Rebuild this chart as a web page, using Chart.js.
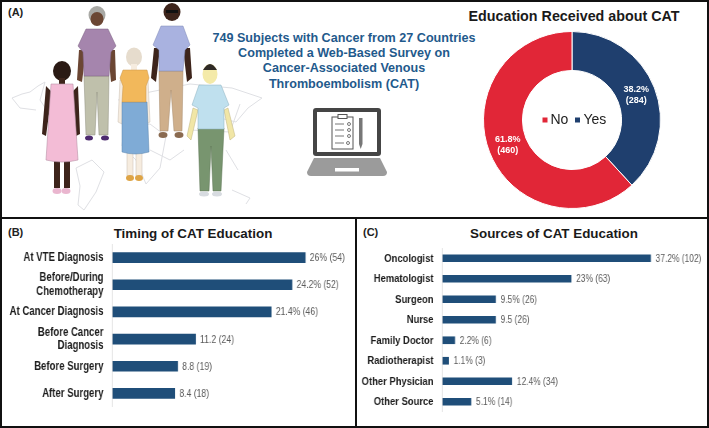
<!DOCTYPE html>
<html>
<head>
<meta charset="utf-8">
<style>
  html, body { margin: 0; padding: 0; background: #fff; }
  body { width: 709px; height: 428px; position: relative; overflow: hidden; font-family: "Liberation Sans", Arial, sans-serif; }
  .panel { position: absolute; box-sizing: border-box; border: 2px solid #111; }
  .tag { position: absolute; font-weight: bold; font-size: 11px; color: #222; }
  .title { position: absolute; font-weight: bold; color: #1a1a1a; font-size: 13.4px; white-space: nowrap; transform: translateX(-50%); }
  .lead { position: absolute; left: 344px; top: 31px; transform: translateX(-50%); width: 290px; text-align: center;
          color: #1f5a8c; font-weight: bold; font-size: 12.6px; line-height: 15.2px; }
  canvas { position: absolute; }
  canvas.squeezed { transform: scaleX(0.8); transform-origin: left top; }
  svg { position: absolute; left: 0; top: 0; }
</style>
</head>
<body>
<div class="panel" style="left:0;top:0;width:709px;height:219px"></div>
<div class="panel" style="left:0;top:217px;width:357px;height:211px"></div>
<div class="panel" style="left:355px;top:217px;width:354px;height:211px"></div>

<svg width="460" height="215" viewBox="0 0 460 215">
  <g fill="none" stroke="#dfe0e4" stroke-width="1">
    <path d="M12 98 L22 94 L30 92 L38 86 L45 82 L40 100 L50 115 L44 128 M12 98 L20 108 L36 110"/>
    <path d="M76 168 L92 160 L104 172 L96 192 L84 210 L78 205 L80 186 Z"/>
    <path d="M118 100 L150 92 L190 84 L232 88 L262 98 L248 108 L236 122 L220 118"/>
    <path d="M124 128 L150 124 L166 136 L160 168 L146 184 L136 160 L122 146 Z"/>
    <path d="M232 190 L250 198 L246 204 M190 130 L230 132 L240 104 M150 150 L170 160 L184 150 M226 150 L238 170"/>
  </g>
  <!-- woman, pink dress -->
  <g>
    <path d="M46 86 L42 134 L46 136 L52 92 Z M78 86 L80 134 L76 136 L72 92 Z" fill="#3d241b"/>
    <rect x="54" y="160" width="6" height="28" fill="#3d241b"/><rect x="64" y="160" width="6" height="28" fill="#3d241b"/>
    <ellipse cx="62" cy="71" rx="9" ry="10" fill="#2a1a14"/><rect x="59" y="78" width="6" height="6" fill="#3d241b"/>
    <path d="M51 84 L73 84 L78 160 Q62 164 46 160 Z" fill="#f3bcd6" stroke="#b893a8" stroke-width=".6"/>
    <ellipse cx="57" cy="191" rx="4.5" ry="3" fill="#eab6cf"/><ellipse cx="66" cy="191" rx="4.5" ry="3" fill="#eab6cf"/>
  </g>
  <!-- man, purple shirt -->
  <g>
    <path d="M79 50 L77 80 L82 82 L86 50 Z M115 50 L116 80 L111 82 L108 50 Z" fill="#6b4633"/>
    <ellipse cx="97" cy="15" rx="8.5" ry="9" fill="#a9a9a5"/><ellipse cx="97" cy="19" rx="6.5" ry="7" fill="#6b4633"/>
    <path d="M84 76 L109 76 L108 135 L99 135 L97 92 L95 135 L86 135 Z" fill="#bfc0ab" stroke="#8e8f7e" stroke-width=".5"/>
    <path d="M86 29 L108 29 L116 46 L111 52 L109 76 L84 76 L83 52 L78 46 Z" fill="#a585ad" stroke="#7c6383" stroke-width=".5"/>
    <ellipse cx="89" cy="138" rx="4" ry="2.5" fill="#4c2a6e"/><ellipse cx="105" cy="138" rx="4" ry="2.5" fill="#4c2a6e"/>
  </g>
  <!-- woman, yellow top -->
  <g>
    <path d="M120 80 L118 122 L122 124 L125 82 Z M148 80 L150 122 L146 124 L143 82 Z" fill="#f6ecdf" stroke="#c8bdb0" stroke-width=".5"/>
    <rect x="127" y="152" width="6" height="24" fill="#f6ecdf" stroke="#c8bdb0" stroke-width=".5"/><rect x="136" y="152" width="6" height="24" fill="#f6ecdf" stroke="#c8bdb0" stroke-width=".5"/>
    <ellipse cx="134" cy="57" rx="8" ry="9.5" fill="#e6dccd"/><rect x="131" y="64" width="6" height="6" fill="#f6ecdf"/>
    <path d="M122 102 L147 102 L149 152 Q135 156 122 152 Z" fill="#7fabd6" stroke="#5b85ad" stroke-width=".5"/>
    <path d="M123 70 L147 70 L149 78 L146 86 L146 102 L122 102 L123 86 L120 78 Z" fill="#f2b85b" stroke="#c8944a" stroke-width=".5"/>
    <ellipse cx="130" cy="178" rx="4" ry="3" fill="#dea445"/><ellipse cx="139" cy="178" rx="4" ry="3" fill="#dea445"/>
  </g>
  <!-- man, blue shirt -->
  <g>
    <path d="M154 48 L151 78 L156 82 L160 48 Z M190 48 L192 78 L187 82 L183 48 Z" fill="#3d241b"/>
    <ellipse cx="172" cy="12" rx="8.5" ry="9" fill="#3d241b"/><rect x="166" y="10" width="12" height="3" fill="#111"/>
    <path d="M159 71 L183 71 L182 131 L174 131 L171 90 L168 131 L160 131 Z" fill="#cfaf8b" stroke="#a68a6c" stroke-width=".5"/>
    <path d="M161 26 L183 26 L190 45 L185 50 L183 71 L159 71 L159 50 L153 45 Z" fill="#a9b2e0" stroke="#7f88b5" stroke-width=".5"/>
    <ellipse cx="163" cy="135" rx="4.5" ry="3" fill="#8a6a50"/><ellipse cx="179" cy="135" rx="4.5" ry="3" fill="#8a6a50"/>
  </g>
  <!-- man, light blue shirt -->
  <g>
    <path d="M193 108 L187 136 L191 140 L198 110 Z M228 108 L235 136 L230 140 L224 110 Z" fill="#f1e6a6" stroke="#bcb27e" stroke-width=".5"/>
    <ellipse cx="210" cy="74" rx="7.5" ry="10" fill="#f4eaa9"/><path d="M203 70 Q210 58 217 70 Z" fill="#2f2a26"/>
    <path d="M198 128 L224 128 L221 191 L213 191 L211 146 L209 191 L200 191 Z" fill="#78956f" stroke="#5a7353" stroke-width=".5"/>
    <path d="M199 85 L221 85 L229 105 L224 108 L224 129 L198 129 L198 108 L192 105 Z" fill="#bfe0ee" stroke="#8db0be" stroke-width=".5"/>
    <ellipse cx="204" cy="194" rx="5" ry="2.5" fill="#d7dbe0"/><ellipse cx="217" cy="194" rx="5" ry="2.5" fill="#d7dbe0"/>
  </g>
  <!-- laptop -->
  <rect x="313" y="108" width="68" height="48" rx="3" fill="#454545"/>
  <rect x="317" y="112" width="60" height="40" fill="#fff"/>
  <path d="M314 158 L380 158 L387 172 Q387 176 383 176 L311 176 Q307 176 307 172 Z" fill="#9b9b9b"/>
  <rect x="335" y="168" width="24" height="3.5" fill="#fff"/>
  <rect x="332" y="117" width="21" height="32" fill="#fff" stroke="#555" stroke-width="1"/>
  <rect x="338" y="114.500" width="9" height="4" fill="#fff" stroke="#555" stroke-width="1"/>
  <g stroke="#777" stroke-width="1">
    <path d="M335 124 H344 M335 130 H344 M335 136 H344 M335 143 H344"/>
    <circle cx="349" cy="124" r="1.500" fill="none"/><circle cx="349" cy="130" r="1.500" fill="none"/><circle cx="349" cy="136" r="1.500" fill="none"/><circle cx="348" cy="143" r="1.500" fill="none"/>
  </g>
  <rect x="359" y="118" width="3.500" height="26" fill="#777"/>
  <path d="M359 144 L362.500 144 L360.700 149 Z" fill="#777"/>
</svg>

<div class="tag" style="left:8px;top:6px">(A)</div>
<div class="tag" style="left:8px;top:226px">(B)</div>
<div class="tag" style="left:363px;top:226px">(C)</div>
<div class="lead">749 Subjects with Cancer from 27 Countries<br>Completed a Web-Based Survey on<br>Cancer-Associated Venous<br>Thromboembolism (CAT)</div>
<div class="title" style="left:574px;top:8px;font-size:14.3px">Education Received about CAT</div>
<div class="title" style="left:193px;top:226px">Timing of CAT Education</div>
<div class="title" style="left:554px;top:226px">Sources of CAT Education</div>

<canvas id="donut" width="178" height="178" style="left:483px;top:31px"></canvas>
<canvas id="timing" class="squeezed" width="437" height="163" style="left:3px;top:244px"></canvas>
<canvas id="sources" class="squeezed" width="437" height="164" style="left:357px;top:248px"></canvas>

<script src="https://cdn.jsdelivr.net/npm/chart.js@4"></script>
<script>
const educationCategories = ['Yes', 'No'];
const educationCounts = [284, 460];
const educationLabels = [['38.2%', '(284)'], ['61.8%', '(460)']];
const educationColors = ['#1f3f6e', '#e12637'];

const timingCategories = ['At VTE Diagnosis', ['Before/During', 'Chemotherapy'], 'At Cancer Diagnosis', ['Before Cancer', 'Diagnosis'], 'Before Surgery', 'After Surgery'];
const timingValues = [26, 24.2, 21.4, 11.2, 8.8, 8.4];
const timingLabels = ['26% (54)', '24.2% (52)', '21.4% (46)', '11.2 (24)', '8.8 (19)', '8.4 (18)'];

const sourceCategories = ['Oncologist', 'Hematologist', 'Surgeon', 'Nurse', 'Family Doctor', 'Radiotherapist', 'Other Physician', 'Other Source'];
const sourceValues = [37.2, 23, 9.5, 9.5, 2.2, 1.1, 12.4, 5.1];
const sourceLabels = ['37.2% (102)', '23% (63)', '9.5% (26)', '9.5 (26)', '2.2% (6)', '1.1% (3)', '12.4% (34)', '5.1% (14)'];

const BAR_COLOR = '#1f4e79';
const SANS = '"Liberation Sans", Arial, sans-serif';
// the bar canvases are squeezed horizontally by css, text in the original is narrow too
const SQUEEZE = 0.8;

// etiquetas de valor na ponta de cada barra
const barLabels = {
  id: 'barLabels',
  afterDatasetsDraw(chart, args, opts) {
    const { ctx } = chart;
    ctx.save();
    ctx.font = `${opts.size}px ${SANS}`;
    ctx.fillStyle = '#5a5a5a';
    ctx.textAlign = 'left';
    ctx.textBaseline = 'middle';
    chart.getDatasetMeta(0).data.forEach((bar, i) => {
      ctx.fillText(opts.texts[i], bar.x + opts.gap / SQUEEZE, bar.y + 0.5);
    });
    ctx.restore();
  }
};

function barChart(id, categories, values, texts, o) {
  return new Chart(document.getElementById(id), {
    type: 'bar',
    data: {
      labels: categories,
      datasets: [{ data: values, backgroundColor: BAR_COLOR, barThickness: o.thickness }]
    },
    options: {
      indexAxis: 'y',
      responsive: false,
      animation: false,
      layout: { padding: 0 },
      plugins: {
        legend: { display: false },
        tooltip: { enabled: false },
        barLabels: { texts, size: o.labelSize, gap: o.gap }
      },
      scales: {
        x: { display: false, min: 0, max: o.max },
        y: {
          afterFit: s => {
            s.width = o.axisWidth / SQUEEZE;
            s.paddingTop = 0;
            s.paddingBottom = 0;
          },
          grid: { display: false, drawTicks: false },
          border: { color: '#dcdcdc', width: 1 },
          ticks: {
            autoSkip: false,
            padding: 9 / SQUEEZE,
            color: '#1c1c1c',
            font: { family: SANS, weight: 'bold', size: o.tickSize, lineHeight: 1.1 }
          }
        }
      }
    },
    plugins: [barLabels]
  });
}

barChart('timing', timingCategories, timingValues, timingLabels, {
  thickness: 10, max: 32.37, axisWidth: 109.5, tickSize: 12, labelSize: 10.8, gap: 4.5
});
barChart('sources', sourceCategories, sourceValues, sourceLabels, {
  thickness: 7, max: 47.2, axisWidth: 85.5, tickSize: 11.8, labelSize: 10.5, gap: 5
});

// rótulos das fatias e legenda no centro do anel
const donutText = {
  id: 'donutText',
  afterDatasetsDraw(chart) {
    const { ctx, chartArea } = chart;
    const cx = (chartArea.left + chartArea.right) / 2;
    const cy = (chartArea.top + chartArea.bottom) / 2;
    ctx.save();
    ctx.textBaseline = 'middle';

    ctx.font = `bold 9px ${SANS}`;
    ctx.fillStyle = '#fff';
    ctx.textAlign = 'center';
    chart.getDatasetMeta(0).data.forEach((arc, i) => {
      const p = arc.tooltipPosition();
      ctx.fillText(educationLabels[i][0], p.x, p.y - 5.5);
      ctx.fillText(educationLabels[i][1], p.x, p.y + 5.5);
    });

    ctx.font = `14px ${SANS}`;
    ctx.textAlign = 'left';
    ctx.fillStyle = educationColors[1];
    ctx.fillRect(cx - 29.5, cy - 2.5, 5, 5);
    ctx.fillStyle = '#222';
    ctx.fillText(educationCategories[1], cx - 21.5, cy);
    ctx.fillStyle = educationColors[0];
    ctx.fillRect(cx + 3, cy - 2.5, 5, 5);
    ctx.fillStyle = '#222';
    ctx.fillText(educationCategories[0], cx + 11.5, cy);
    ctx.restore();
  }
};

new Chart(document.getElementById('donut'), {
  type: 'doughnut',
  data: {
    labels: educationCategories,
    datasets: [{ data: educationCounts, backgroundColor: educationColors, borderColor: '#fff', borderWidth: 1 }]
  },
  options: {
    responsive: false,
    animation: false,
    cutout: '56%',
    layout: { padding: 0 },
    plugins: { legend: { display: false }, tooltip: { enabled: false } }
  },
  plugins: [donutText]
});
</script>
</body>
</html>
